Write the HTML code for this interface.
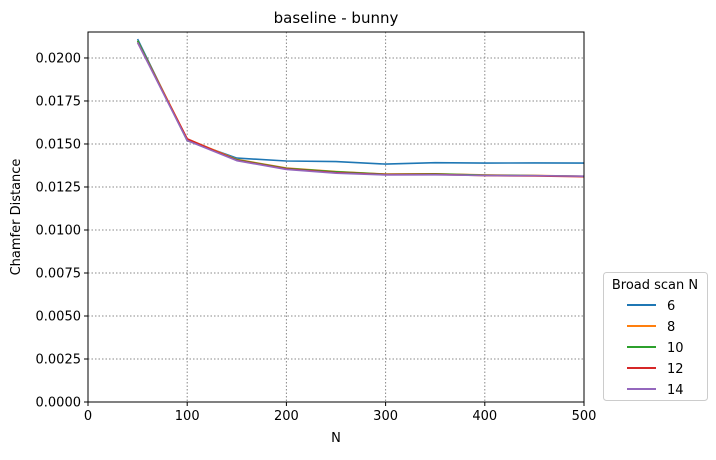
<!DOCTYPE html>
<html><head><meta charset="utf-8"><style>
body{margin:0;background:#fff;font-family:"Liberation Sans","DejaVu Sans",sans-serif}
svg text{font-family:"DejaVu Sans","Liberation Sans",sans-serif;fill:#000}
</style></head><body>
<svg id="chart" width="716" height="455" xmlns="http://www.w3.org/2000/svg"></svg>
<script>
const xs=[50,100,150,200,250,300,350,400,450,500];
const s6=[0.0211,0.0152,0.01418,0.01401,0.01398,0.01383,0.01391,0.01389,0.01390,0.01389];
const s8=[0.0210,0.0153,0.01410,0.01360,0.01340,0.01325,0.01327,0.01320,0.01317,0.01312];
const s10=[0.0210,0.0152,0.01408,0.01358,0.01338,0.01324,0.01326,0.01319,0.01316,0.01312];
const s12=[0.0209,0.0153,0.01405,0.01355,0.01333,0.01322,0.01323,0.01316,0.01314,0.01310];
const s14=[0.0209,0.0152,0.01403,0.01352,0.01330,0.01320,0.01321,0.01317,0.01316,0.01313];
const seriesNames=["6","8","10","12","14"];
const seriesColors=["#1f77b4","#ff7f0e","#2ca02c","#d62728","#9467bd"];
const xTicks=[0,100,200,300,400,500];
const yTicks=[0,0.0025,0.005,0.0075,0.01,0.0125,0.015,0.0175,0.02];
const L=88,R=584,T=32,B=402,XMAX=500,YMAX=0.02151;
const X=v=>L+(v/XMAX)*(R-L), Y=v=>B-(v/YMAX)*(B-T);
const svg=document.getElementById('chart');const NS='http://www.w3.org/2000/svg';
function mk(t,a,p){const e=document.createElementNS(NS,t);for(const k in a)e.setAttribute(k,a[k]);(p||svg).appendChild(e);return e;}
xTicks.forEach(v=>{const x=X(v);
 const g=mk('line',{x1:x,x2:x,y1:T,y2:B,stroke:'#888','stroke-dasharray':'1.5,2','stroke-width':1});
 
 mk('line',{x1:x,x2:x,y1:B,y2:B+4,stroke:'#000'});
 const t=mk('text',{x:x,y:B+18,'text-anchor':'middle','font-size':13});t.textContent=v;
 });
yTicks.forEach(v=>{const y=Y(v);
 const g=mk('line',{x1:L,x2:R,y1:y,y2:y,stroke:'#888','stroke-dasharray':'1.5,2','stroke-width':1});
 
 mk('line',{x1:L-4,x2:L,y1:y,y2:y,stroke:'#000'});
 const t=mk('text',{x:L-7,y:y+4.5,'text-anchor':'end','font-size':13});t.textContent=v.toFixed(4);
 });
[s6,s8,s10,s12,s14].forEach((s,i)=>{
 const p=mk('polyline',{points:s.map((v,j)=>X(xs[j])+','+Y(v)).join(' '),fill:'none',stroke:seriesColors[i],'stroke-width':1.6,'stroke-linejoin':'round'});
 });
const fr=mk('rect',{x:L,y:T,width:R-L,height:B-T,fill:'none',stroke:'#000','stroke-width':1});

let t=mk('text',{x:(L+R)/2,y:23,'text-anchor':'middle','font-size':15});t.textContent='baseline - bunny';

t=mk('text',{x:(L+R)/2,y:442,'text-anchor':'middle','font-size':13});t.textContent='N';

t=mk('text',{x:20,y:(T+B)/2,'text-anchor':'middle','font-size':13,transform:'rotate(-90 20 '+((T+B)/2)+')'});t.textContent='Chamfer Distance';

const lg=mk('g',{});
mk('rect',{x:603.5,y:272.5,width:104,height:128,rx:3,fill:'#fff',stroke:'#ccc'},lg);
t=mk('text',{x:655,y:289,'text-anchor':'middle','font-size':13},lg);t.textContent='Broad scan N';

seriesNames.forEach((n,i)=>{const y=305+i*21;
 const e=mk('g',{},lg);
 mk('line',{x1:627,x2:656,y1:y,y2:y,stroke:seriesColors[i],'stroke-width':2},e);
 const tt=mk('text',{x:667,y:y+5,'font-size':13},e);tt.textContent=n;});
</script></body></html>
